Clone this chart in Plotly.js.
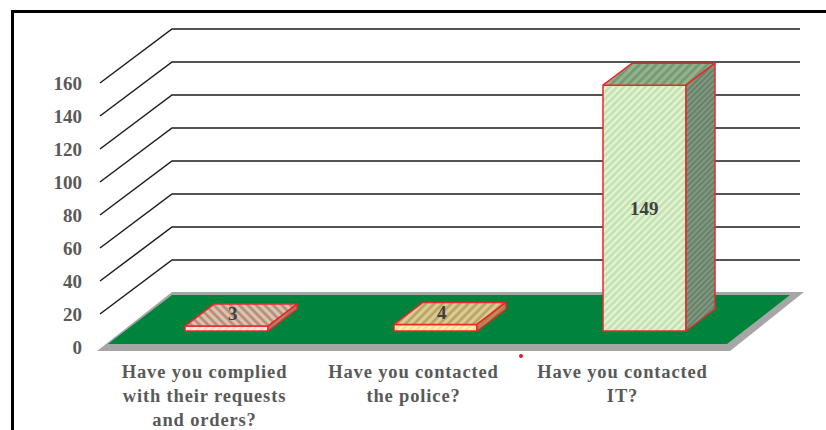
<!DOCTYPE html>
<html>
<head>
<meta charset="utf-8">
<script src="https://cdn.plot.ly/plotly-3.0.1.min.js"></script>
<style>
html,body{margin:0;padding:0;background:#fff;overflow:hidden}
.xtick text{letter-spacing:.85px}
</style>
</head>
<body>
<div id="chart" style="width:826px;height:430px"></div>
<script>
// Survey responses, one bar per question
const categories = [
  "Have you complied<br>with their requests<br>and orders?",
  "Have you contacted<br>the police?",
  "Have you contacted<br>IT?"
];
const responses = [3, 4, 149];
const yTicks = [0, 20, 40, 60, 80, 100, 120, 140, 160];

// Face colours per bar
const frontBg = ["#fff3ea", "#fff3b8", "#e4f4d8"];
const frontFg = ["#f6bfa8", "#f6c95c", "#a4cf8c"];
const topBg   = ["#dcc4b2", "#dacc92", "#98b18c"];
const topFg   = ["#b68c74", "#b9a364", "#6f9a72"];
const sideBg  = ["#b98468", "#bd9058", "#83997f"];
const sideFg  = ["#a87258", "#a97e48", "#5f7f66"];
const edgeRed = "#e8282c";
const grey = "#a6a6a6";
const green = "#00843d";
const inkGrey = "#595959";
const serif = "'Liberation Serif', serif";

// Scales: pixels per unit on each axis, and where the plot box sits
const pxPerCat = 209, pxPerVal = 1.65;
const plotL = 90, plotR = 810, plotT = 20, plotB = 357;
const cat0Px = 204.5, val0Px = 347;
const xRange = [(plotL - cat0Px) / pxPerCat, (plotR - cat0Px) / pxPerCat];
const yRange = [(val0Px - plotB) / pxPerVal, (val0Px - plotT) / pxPerVal];

// Oblique projection: depth of the whole floor and of a single bar
const wallDx = 72 / pxPerCat, wallDy = 54 / pxPerVal;
const barDx = 29 / pxPerCat, barDy = 22 / pxPerVal;
const barShift = 22 / pxPerCat, barBase = 16 / pxPerVal;
const barWidth = 83 / pxPerCat;
const frontLeft = -0.5, gridRight = (800 - cat0Px) / pxPerCat;

// Paper fractions for the frame drawn around the figure
const paperX = p => (p - plotL) / (plotR - plotL);
const paperY = p => (plotB - p) / (plotB - plotT);

function quad(xl, xr, yFront, yBack, skewL, skewR) {
  return `M${xl},${yFront}L${xr},${yFront}L${xr + skewR},${yBack}L${xl + skewL},${yBack}Z`;
}

const shapes = [];
// Receding gridlines: up the side wall, then along the back wall
yTicks.filter(v => v > 0).forEach(v => {
  shapes.push({
    type: "path", layer: "below",
    xref: "x", yref: "y",
    path: `M${frontLeft},${v}L${frontLeft + wallDx},${v + wallDy}L${gridRight},${v + wallDy}`,
    line: {color: "#1c1c1c", width: 1.5}
  });
});
// Floor: grey slab with a green top
shapes.push({
  type: "path", layer: "below", xref: "x", yref: "y",
  path: quad(frontLeft - 3 / pxPerCat, frontLeft + 630 / pxPerCat, -4 / pxPerVal, wallDy + 1 / pxPerVal, 75 / pxPerCat, 74 / pxPerCat),
  fillcolor: grey, line: {width: 0}
});
shapes.push({
  type: "path", layer: "below", xref: "x", yref: "y",
  path: quad(frontLeft + 8 / pxPerCat, frontLeft + 627 / pxPerCat, 3 / pxPerVal, wallDy - 2 / pxPerVal, 64 / pxPerCat, 63 / pxPerCat),
  fillcolor: green, line: {width: 0}
});
// Frame: top and left rules only
shapes.push({type: "line", xref: "paper", yref: "paper", x0: paperX(12.5), x1: paperX(12.5), y0: paperY(10), y1: paperY(430), line: {color: "#000", width: 3}});
shapes.push({type: "line", xref: "paper", yref: "paper", x0: paperX(11), x1: paperX(826), y0: paperY(11.5), y1: paperY(11.5), line: {color: "#000", width: 3}});

const xs = categories.map((_, i) => i + barShift);

// Front faces: a solid bar with the hatch laid over it
const traces = [{
  type: "bar",
  x: xs,
  y: responses,
  base: responses.map(() => barBase),
  width: barWidth,
  marker: {color: frontBg, line: {width: 0}},
  hoverinfo: "skip"
}, {
  type: "bar",
  x: xs,
  y: responses,
  base: responses.map(() => barBase),
  width: barWidth,
  marker: {
    color: "rgba(0,0,0,0)",
    line: {color: edgeRed, width: 1.5},
    pattern: {shape: "/", fgcolor: frontFg, size: 5, solidity: 0.55, fillmode: "overlay"}
  },
  hoverinfo: "skip"
}];

// Top and side faces of each bar, derived from its value
responses.forEach((v, i) => {
  const l = xs[i] - barWidth / 2, r = xs[i] + barWidth / 2;
  const y0 = barBase, y1 = barBase + v;
  const edge = {color: edgeRed, width: 1.5};
  traces.push({
    type: "scatter", mode: "lines", fill: "toself", hoverinfo: "skip",
    x: [l, r, r + barDx, l + barDx, l],
    y: [y1, y1, y1 + barDy, y1 + barDy, y1],
    line: edge, fillcolor: topBg[i],
    fillpattern: {shape: i === 0 ? "\\" : "/", bgcolor: topBg[i], fgcolor: topFg[i], size: 6, solidity: 0.45}
  });
  traces.push({
    type: "scatter", mode: "lines", fill: "toself", hoverinfo: "skip",
    x: [r, r + barDx, r + barDx, r, r],
    y: [y0, y0 + barDy, y1 + barDy, y1, y0],
    line: edge, fillcolor: sideBg[i],
    fillpattern: {shape: "/", bgcolor: sideBg[i], fgcolor: sideFg[i], size: 4, solidity: 0.45}
  });
});

// Small red speck below the floor
traces.push({
  type: "scatter", mode: "markers", hoverinfo: "skip", cliponaxis: false,
  x: [(521 - cat0Px) / pxPerCat], y: [(val0Px - 356) / pxPerVal],
  marker: {color: "#e01b24", size: 4}
});

// Value labels: tall bars carry theirs on the front face, flat ones on the top face
const annotations = responses.map((v, i) => {
  const flat = v < 20;
  return {
    xref: "x", yref: "y",
    x: flat ? xs[i] + 6 / pxPerCat : xs[i],
    y: flat ? barBase + v + barDy * 0.55 : barBase + v / 2,
    text: String(v), showarrow: false,
    font: {family: serif, size: 19, color: "#404040", weight: "bold"}
  };
});

const layout = {
  width: 826, height: 430,
  margin: {l: plotL, r: 826 - plotR, t: plotT, b: 430 - plotB, pad: 0},
  paper_bgcolor: "#fff", plot_bgcolor: "#fff",
  showlegend: false,
  barmode: "overlay",
  xaxis: {
    range: xRange, tickmode: "array", tickvals: [0, 1, 2], ticktext: categories,
    showgrid: false, zeroline: false, showline: false, ticks: "",
    tickangle: 0, ticklabelstandoff: 1,
    tickfont: {family: serif, size: 18.5, color: inkGrey, weight: "bold"}
  },
  yaxis: {
    range: yRange, tickmode: "array", tickvals: yTicks,
    showgrid: false, zeroline: false, showline: false, ticks: "",
    ticklabelstandoff: 7,
    tickfont: {family: serif, size: 19, color: inkGrey, weight: "bold"}
  },
  shapes, annotations
};

Plotly.newPlot("chart", traces, layout, {displayModeBar: false, staticPlot: true});
</script>
</body>
</html>
